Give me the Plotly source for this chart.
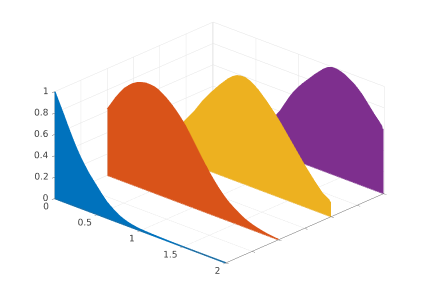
import math
import plotly.graph_objects as go

x_values = [0, .05, .1, .15, .2, .25, .3, .35, .4, .45, .5, .55, .6, .65, .7, .75, .8, .85, .9, .95, 1.0,
            1.05, 1.1, 1.15, 1.2, 1.25, 1.3, 1.35, 1.4, 1.45, 1.5, 1.55, 1.6, 1.65, 1.7, 1.75, 1.8, 1.85, 1.9, 1.95, 1.98, 1.985, 2.0]
blue_z = [1, .91, .82, .725, .635, .55, .475, .41, .35, .3, .25, .2, .155, .122, .092, .066, .048, .034, .024, .017, .012,
          .009, .007, .005, .004, .003, .002, .0015, .001, .0007, .0005, .0003, .0002, .0001, 0, 0, 0, 0, 0, 0, 0, 0, 0]
orange_z = [.62, .69, .76, .82, .875, .915, .95, .975, .99, 1, 1, .995, .98, .955, .925, .89, .85, .805, .755, .695, .63,
            .565, .5, .44, .38, .325, .275, .23, .19, .158, .13, .103, .08, .063, .048, .037, .027, .019, .013, .008, .006, .006, .005]
yellow_z = [.1, .135, .175, .22, .27, .33, .39, .445, .5, .565, .63, .685, .74, .79, .84, .885, .93, .965, .99, 1, 1,
            .985, .96, .93, .89, .85, .805, .76, .71, .655, .6, .545, .49, .435, .38, .33, .28, .235, .19, .165, .15, .135, .135]
purple_z = [.01, .015, .02, .03, .04, .055, .07, .085, .105, .125, .15, .185, .22, .26, .3, .36, .42, .495, .57, .635, .69,
            .74, .785, .83, .875, .915, .955, .985, 1, 1, .99, .975, .95, .925, .89, .85, .8, .75, .7, .655, .625, .6, .6]
series_y = [0, 2, 4, 6]
series_z = [blue_z, orange_z, yellow_z, purple_z]
colors = ["#0072BD", "#D95319", "#EDB120", "#7E2F8E"]
x_ticks = [0, .5, 1, 1.5, 2]
x_labels = ["0", "0.5", "1", "1.5", "2"]
y_ticks = [0, 1, 2, 3, 4, 5, 6]
z_ticks = [0, .2, .4, .6, .8, 1]
z_labels = ["0", "0.2", "0.4", "0.6", "0.8", "1"]

fig = go.Figure()
for y, z, c in zip(series_y, series_z, colors):
    n = len(x_values)
    width = 3 if y == 0 else 2
    fig.add_trace(go.Surface(
        x=[x_values, x_values], y=[[y] * n, [y] * n], z=[[0] * n, z],
        surfacecolor=[[0] * n, [0] * n], colorscale=[[0, c], [1, c]], showscale=False,
        lighting=dict(ambient=1, diffuse=0, specular=0, roughness=1, fresnel=0),
        hoverinfo="skip"))
    fig.add_trace(go.Scatter3d(x=x_values, y=[y] * n, z=[0] * n, mode="lines",
                               line=dict(color=c, width=width), hoverinfo="skip"))
    fig.add_trace(go.Scatter3d(x=x_values, y=[y] * n, z=z, mode="lines",
                               line=dict(color=c, width=width), hoverinfo="skip"))

font = dict(family="DejaVu Sans", size=9, color="#404040")
fig.add_trace(go.Scatter3d(x=[0] * len(z_ticks), y=[.08] * len(z_ticks), z=z_ticks, mode="text",
                           text=z_labels, textposition="middle left",
                           textfont=font, hoverinfo="skip"))
fig.add_trace(go.Scatter3d(x=x_ticks, y=[.1] * len(x_ticks), z=[.035] * len(x_ticks), mode="text",
                           text=x_labels, textposition="bottom left",
                           textfont=font, hoverinfo="skip"))

def axis(**kw):
    return dict(title="", showbackground=False, showspikes=False, showgrid=True,
                gridcolor="#E4E4E4", gridwidth=1, showline=True, linecolor="#666666", linewidth=1,
                zeroline=False, ticks="outside", ticklen=4, tickcolor="#666666", tickfont=font,
                tickangle=0, **kw)

a, e, R = math.radians(42.8), math.radians(24), 2.0
fig.update_layout(
    width=423, height=296, margin=dict(l=0, r=0, t=0, b=0), paper_bgcolor="white", showlegend=False,
    scene=dict(
        domain=dict(x=[0, 1], y=[0, 1]),
        aspectmode="manual", aspectratio=dict(x=1.576, y=1.576, z=.79),
        camera=dict(projection=dict(type="orthographic"), up=dict(x=0, y=0, z=1),
                    center=dict(x=0, y=0, z=-.1),
                    eye=dict(x=R * math.cos(e) * math.sin(a), y=-R * math.cos(e) * math.cos(a), z=R * math.sin(e) - .1)),
        xaxis=axis(range=[0, 2], tickmode="array", tickvals=x_ticks, ticktext=[" "] * 5),
        yaxis=axis(range=[0, 6.03], tickmode="array", tickvals=y_ticks, ticktext=[" "] * 7),
        zaxis=axis(range=[0, 1], tickmode="array", tickvals=z_ticks, ticktext=[" "] * 6),
    ))
fig.write_html("out.html")
